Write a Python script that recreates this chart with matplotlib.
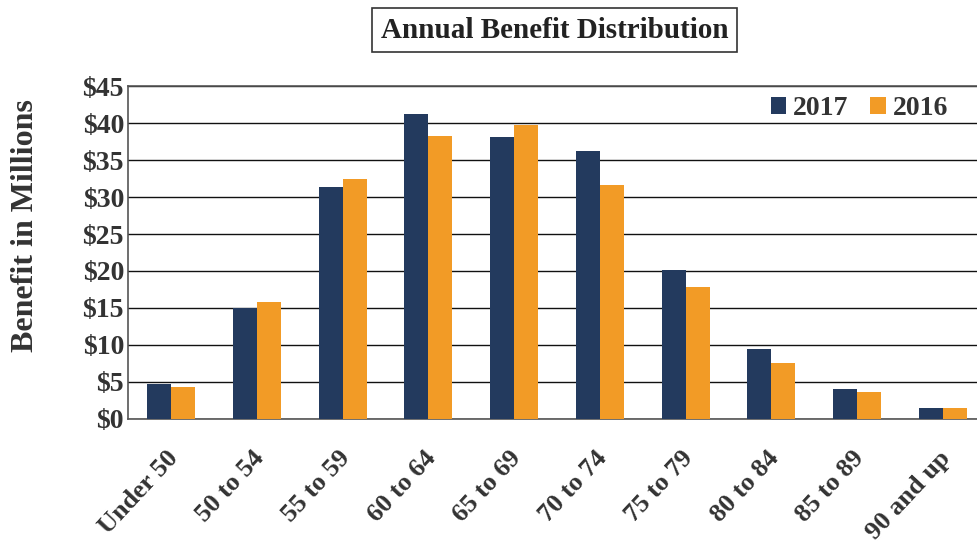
import matplotlib
matplotlib.use("Agg")
import matplotlib.pyplot as plt
import matplotlib.transforms as mtransforms
import numpy as np

categories = ["Under 50", "50 to 54", "55 to 59", "60 to 64", "65 to 69",
              "70 to 74", "75 to 79", "80 to 84", "85 to 89", "90 and up"]
values_2017 = [4.7, 15.0, 31.4, 41.3, 38.1, 36.2, 20.2, 9.5, 4.0, 1.5]
values_2016 = [4.3, 15.8, 32.4, 38.3, 39.8, 31.6, 17.8, 7.5, 3.6, 1.4]
yticks = [0, 5, 10, 15, 20, 25, 30, 35, 40, 45]

navy = "#233a5e"
orange = "#f29b26"
txt = "#333333"

plt.rcParams['font.family'] = ['Liberation Serif', 'DejaVu Serif']

fig = plt.figure(figsize=(9.78, 5.46), dpi=100)
ax = fig.add_axes([0.131, 0.233, 0.877, 0.609])

x = np.arange(len(categories))
w = 0.28
ax.bar(x - w/2, values_2017, w, color=navy, label="2017", zorder=3)
ax.bar(x + w/2, values_2016, w, color=orange, label="2016", zorder=3)

ax.set_xlim(-0.5, len(categories) - 0.5)
ax.set_ylim(0, 45)
ax.set_yticks(yticks)
ax.set_yticklabels(["${}".format(v) for v in yticks], fontsize=20, fontweight='bold',
                   color=txt)
ax.yaxis.grid(True, color="#111111", linewidth=1.0, zorder=0)
ax.set_axisbelow(True)
ax.tick_params(axis='y', length=0, pad=3)
ax.tick_params(axis='x', length=0, pad=20)

ax.set_xticks(x)
ax.set_xticklabels(categories, rotation=47, ha='right', rotation_mode='anchor',
                   fontsize=19, fontweight='bold', color=txt)
shift = mtransforms.ScaledTranslation(-5/100, 0, fig.dpi_scale_trans)
for lbl in ax.get_xticklabels():
    lbl.set_transform(lbl.get_transform() + shift)

for side in ['left', 'top', 'bottom']:
    ax.spines[side].set_color("#555555")
    ax.spines[side].set_linewidth(1.2)
ax.spines['right'].set_visible(False)

fig.text(0.026, 0.586, "Benefit in Millions", rotation=90, ha='center', va='center',
         fontsize=23, fontweight='bold', color=txt)

leg = ax.legend(loc='upper right', bbox_to_anchor=(0.985, 1.045), ncol=2, frameon=False,
                prop={'size': 20, 'weight': 'bold'}, handlelength=0.55, handleheight=0.55,
                handletextpad=0.25, columnspacing=0.8)
for t in leg.get_texts():
    t.set_color(txt)

fig.text(0.567, 0.945, "Annual Benefit Distribution", ha='center', va='center',
         fontsize=21, fontweight='bold', color="#222222",
         bbox=dict(boxstyle='square,pad=0.3', facecolor='white', edgecolor='#333333',
                   linewidth=1.2))

fig.savefig("out.png", dpi=100)
